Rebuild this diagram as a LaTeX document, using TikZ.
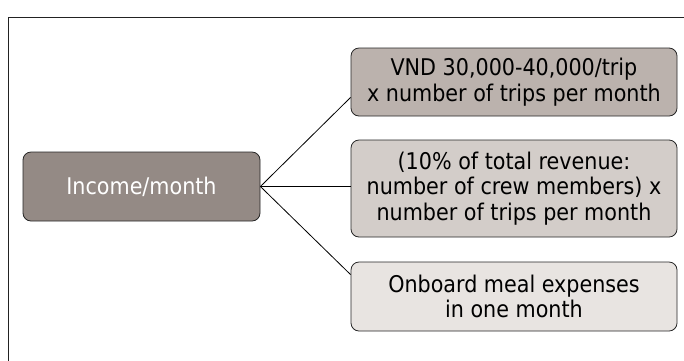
\documentclass[tikz,border=0pt]{standalone}
\usepackage{fontspec}
\setmainfont{DejaVu Sans Condensed}
\definecolor{framec}{HTML}{222222}
\definecolor{incfill}{HTML}{948A85}
\definecolor{onefill}{HTML}{BBB2AD}
\definecolor{twofill}{HTML}{D3CDC9}
\definecolor{threefill}{HTML}{E8E4E1}
\begin{document}
\begin{tikzpicture}[x=1pt,y=-1pt,
  boxbase/.style={draw=black!85, line width=0.8pt, rounded corners=8pt, align=center, inner sep=0pt,
    font=\fontsize{23}{25.5}\selectfont},
  link/.style={draw=black, line width=0.8pt}]
\useasboundingbox (0,0) rectangle (684,360);
\fill[white] (0,0) rectangle (684,360);
\draw[framec, line width=1pt] (8,17) rectangle (700,380);
\node[boxbase, fill=incfill, text=white, minimum width=237pt, minimum height=69pt] (inc) at (141.5,186.5) {Income/month};
\node[boxbase, fill=onefill, minimum width=326pt, minimum height=68pt] (b1) at (514,82) {VND 30,000-40,000/trip\\x number of trips per month};
\node[boxbase, fill=twofill, minimum width=326pt, minimum height=97pt] (b2) at (514,188.5) {(10\% of total revenue:\\number of crew members) x\\number of trips per month};
\node[boxbase, fill=threefill, minimum width=326pt, minimum height=69pt] (b3) at (514,296.5) {Onboard meal expenses\\in one month};
\coordinate (e1) at ([yshift=19pt]b1.south west);
\coordinate (e3) at ([yshift=-13pt]b3.north west);
\draw[link] (inc.east) -- (e1);
\draw[link] (inc.east) -- (b2.west |- inc.east);
\draw[link] (inc.east) -- (e3);
\end{tikzpicture}
\end{document}
